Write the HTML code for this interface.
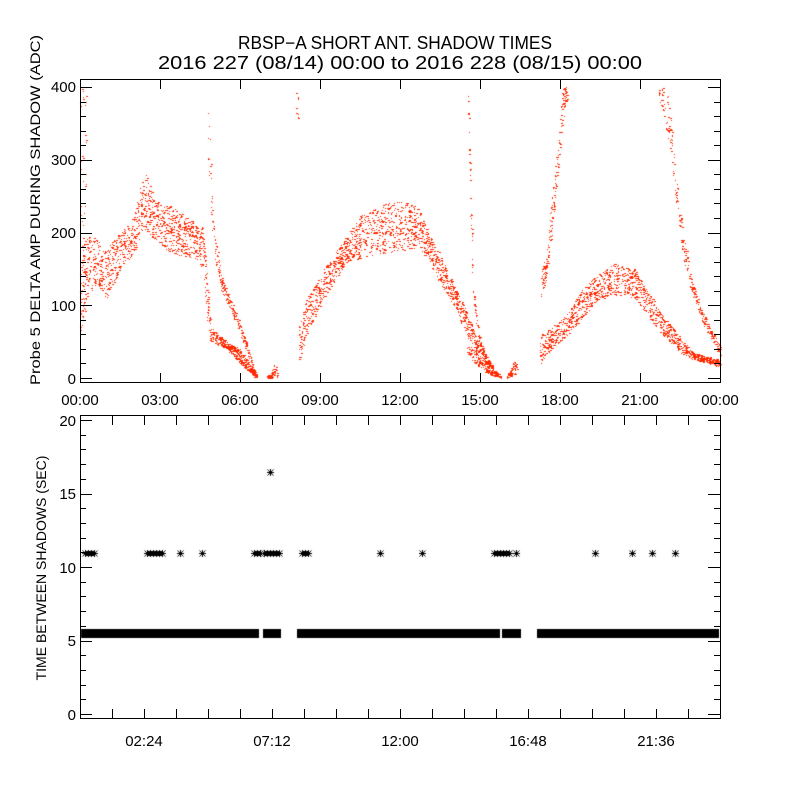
<!DOCTYPE html>
<html><head><meta charset="utf-8"><style>
html,body{margin:0;padding:0;background:#fff;}
#w{position:relative;width:800px;height:800px;overflow:hidden;}
canvas,svg{position:absolute;left:0;top:0;}
text{font-family:"Liberation Sans",sans-serif;fill:#000;}
</style></head><body><div id="w">
<canvas id="c" width="800" height="800"></canvas>
<svg id="s" width="800" height="800" xmlns="http://www.w3.org/2000/svg">
<text x="238" y="49" font-size="18" textLength="314" lengthAdjust="spacingAndGlyphs">RBSP−A SHORT ANT. SHADOW TIMES</text>
<text x="158" y="69" font-size="18" textLength="484" lengthAdjust="spacingAndGlyphs">2016 227 (08/14) 00:00 to 2016 228 (08/15) 00:00</text>
<g font-size="15" text-anchor="end">
<text x="76" y="92">400</text><text x="76" y="165">300</text><text x="76" y="238">200</text><text x="76" y="311">100</text><text x="76" y="384">0</text>
<text x="76" y="426">20</text><text x="76" y="499">15</text><text x="76" y="573">10</text><text x="76" y="646">5</text><text x="76" y="720">0</text>
</g>
<g font-size="15" text-anchor="middle">
<text x="80" y="405">00:00</text><text x="160" y="405">03:00</text><text x="240" y="405">06:00</text><text x="320" y="405">09:00</text><text x="400" y="405">12:00</text><text x="480" y="405">15:00</text><text x="560" y="405">18:00</text><text x="640" y="405">21:00</text><text x="720" y="405">00:00</text>
<text x="144" y="746">02:24</text><text x="272" y="746">07:12</text><text x="400" y="746">12:00</text><text x="528" y="746">16:48</text><text x="656" y="746">21:36</text>
</g>
<text transform="translate(40,385) rotate(-90)" font-size="14" textLength="350" lengthAdjust="spacingAndGlyphs">Probe 5 DELTA AMP DURING SHADOW (ADC)</text>
<text transform="translate(46,568) rotate(-90)" font-size="14" text-anchor="middle">TIME BETWEEN SHADOWS (SEC)</text>
<g id="ax" stroke="#000" stroke-width="1" fill="none"></g>
</svg>
</div>
<script>
var ax=document.getElementById('ax'),P='';
function L(a,b,c,d){P+='<line x1="'+a+'" y1="'+b+'" x2="'+c+'" y2="'+d+'"/>';}
P+='<rect x="80.5" y="79.5" width="640" height="303"/>';
P+='<rect x="80.5" y="415.5" width="640" height="303"/>';
for(var i=0;i<=8;i++){var x=80.5+i*80;L(x,383,x,373);L(x,79,x,89);}
for(var v=0;v<=400;v+=20){var y=Math.round(378-v*0.7275)+.5;var l=(v%100==0)?12:6;L(80,y,80+l,y);L(720,y,720-l,y);}
for(var i=1;i<20;i++){var x=80.5+i*32;L(x,719,x,709);L(x,415,x,425);}
for(var v=0;v<=20;v++){var y=Math.round(714-v*14.7)+.5;var l=(v%5==0)?12:6;L(80,y,80+l,y);L(720,y,720-l,y);}
ax.innerHTML=P;

var cx=document.getElementById('c').getContext('2d');
var seed=7;function r(){seed=(seed*16807)%2147483647;return seed/2147483647;}
function X(h){return 80+h*640/24;}function Y(v){return 378-v*0.7275;}
function itp(k,h){for(var i=0;i<k.length-1;i++){if(h>=k[i][0]&&h<=k[i+1][0]){var t=(h-k[i][0])/(k[i+1][0]-k[i][0]);return [k[i][1]+t*(k[i+1][1]-k[i][1]),k[i][2]+t*(k[i+1][2]-k[i][2])];}}return null;}
cx.fillStyle='#ff2a00';
function br(k,n){var h0=k[0][0],h1=k[k.length-1][0];for(var i=0;i<n;i++){var h=h0+r()*(h1-h0);var lh=itp(k,h);if(!lh)continue;var v=lh[0]+r()*(lh[1]-lh[0]);var x=Math.round(X(h)),y=Math.round(Y(v));if(y<80)continue;if(y>381)y=381;cx.fillRect(x,y,r()<0.4?2:1,1);}}
br([[0,60,150],[0.3,110,200],[0.6,130,190],[1,110,180],[1.5,150,200],[2,170,220],[2.3,200,270],[2.5,200,282],[2.8,190,245],[3.5,170,235],[4.3,165,215],[4.6,150,210],[4.75,80,150],[4.9,50,70],[5.5,40,50],[6,20,40],[6.6,0,5]],1500);
br([[0,60,400],[0.25,100,400]],60);
br([[4.8,300,400],[4.9,220,300],[5.0,170,220],[5.3,120,140],[5.8,80,95],[6.2,40,55],[6.6,0,5]],240);
br([[7,0,5],[7.15,0,5],[7.3,5,20],[7.4,0,15]],70);
br([[8.1,350,400],[8.2,350,400]],10);
br([[8.2,20,70],[8.5,60,110],[9,100,140],[9.5,130,170],[10,160,195],[10.5,165,225],[11,170,235],[12,175,245],[12.7,180,235],[13,165,205],[13.5,130,170],[14,100,130],[14.5,60,90],[15,20,45],[15.5,0,15]],1500);
br([[14.5,30,50],[15.3,5,15],[15.8,0,5]],120);
br([[14.55,380,400],[14.65,200,250],[14.75,100,120],[15.0,40,55],[15.4,10,20],[15.7,0,5]],150);
br([[16.0,0,3],[16.3,5,25],[16.4,0,20]],60);
br([[17.25,20,60],[17.7,40,70],[18.3,60,90],[18.8,80,120],[19.3,105,140],[20,115,158],[20.8,110,150],[21.2,90,125],[21.8,60,90],[22.5,35,55],[23,25,35],[24,15,25]],1300);
br([[17.3,110,150],[17.5,140,170],[17.7,200,250],[17.9,280,320],[18.1,350,400],[18.25,380,400]],200);
br([[21.7,390,400],[22.1,320,400],[22.3,250,290],[22.6,170,210],[22.9,120,140],[23.3,80,95],[23.7,50,65],[24,30,45]],300);
cx.fillStyle='#000';cx.strokeStyle='#000';cx.lineWidth=1;
function star(x,y){cx.beginPath();cx.moveTo(x-3.5,y);cx.lineTo(x+3.5,y);cx.moveTo(x,y-3.5);cx.lineTo(x,y+3.5);cx.moveTo(x-3,y-3);cx.lineTo(x+3,y+3);cx.moveTo(x-3,y+3);cx.lineTo(x+3,y-3);cx.stroke();}
var segs=[[81,259],[263,281],[297,500],[502,521],[537,719]];
segs.forEach(function(s){cx.fillRect(s[0],629,s[1]-s[0],9);star(s[0]+3.5,633.5);star(s[1]-3.5,633.5);});
var y10=553.5;
[[85,96],[147,163],[180,181],[202,203],[254,262],[264,280],[302,310],[380,381],[422,423],[494,510],[516,517],[595,596],[632,633],[652,653],[675,676]].forEach(function(s){for(var x=s[0];x<=s[1];x+=3)star(x+.5,y10);});
star(270.5,472.5);
</script>
</body></html>
